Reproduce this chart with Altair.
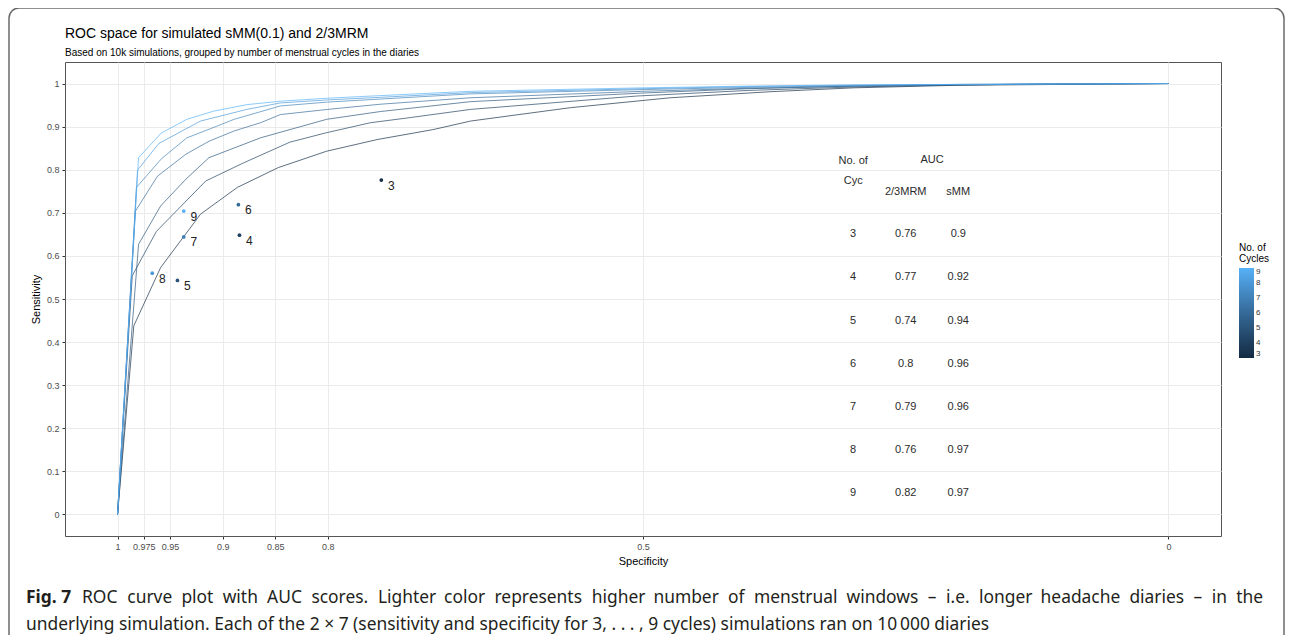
import altair as alt
import pandas as pd

# ---------------- data ----------------
cycles = [3, 4, 5, 6, 7, 8, 9]

spec_c3 = [1.0, 0.9845, 0.959, 0.921, 0.886, 0.847, 0.801, 0.753, 0.70, 0.664, 0.569, 0.474, 0.379, 0.30, 0.20, 0.10, 0.0]
sens_c3 = [0.0, 0.438, 0.573, 0.697, 0.759, 0.805, 0.843, 0.870, 0.893, 0.913, 0.944, 0.967, 0.981, 0.990, 0.996, 0.998, 1.0]

spec_c4 = [1.0, 0.986, 0.963, 0.916, 0.880, 0.836, 0.801, 0.7595, 0.7215, 0.664, 0.506, 0.40, 0.30, 0.20, 0.10, 0.0]
sens_c4 = [0.0, 0.554, 0.657, 0.774, 0.816, 0.864, 0.886, 0.909, 0.921, 0.940, 0.971, 0.984, 0.992, 0.997, 0.999, 1.0]

spec_c5 = [1.0, 0.980, 0.959, 0.935, 0.913, 0.864, 0.801, 0.75, 0.664, 0.50, 0.40, 0.30, 0.20, 0.10, 0.0]
sens_c5 = [0.0, 0.627, 0.716, 0.778, 0.828, 0.874, 0.917, 0.935, 0.958, 0.978, 0.988, 0.994, 0.997, 0.999, 1.0]

spec_c6 = [1.0, 0.983, 0.962, 0.935, 0.913, 0.889, 0.864, 0.845, 0.80, 0.75, 0.664, 0.50, 0.40, 0.30, 0.20, 0.10, 0.0]
sens_c6 = [0.0, 0.704, 0.785, 0.836, 0.866, 0.890, 0.909, 0.928, 0.940, 0.952, 0.967, 0.982, 0.989, 0.994, 0.997, 0.999, 1.0]

spec_c7 = [1.0, 0.982, 0.958, 0.934, 0.915, 0.889, 0.845, 0.80, 0.75, 0.664, 0.50, 0.40, 0.30, 0.20, 0.10, 0.0]
sens_c7 = [0.0, 0.759, 0.826, 0.874, 0.892, 0.917, 0.948, 0.957, 0.964, 0.976, 0.986, 0.991, 0.995, 0.998, 0.999, 1.0]

spec_c8 = [1.0, 0.981, 0.9607, 0.921, 0.877, 0.845, 0.80, 0.75, 0.664, 0.50, 0.40, 0.30, 0.20, 0.10, 0.0]
sens_c8 = [0.0, 0.799, 0.861, 0.913, 0.940, 0.955, 0.962, 0.968, 0.979, 0.988, 0.993, 0.996, 0.998, 0.999, 1.0]

spec_c9 = [1.0, 0.980, 0.9585, 0.934, 0.9085, 0.877, 0.845, 0.80, 0.75, 0.664, 0.50, 0.40, 0.30, 0.20, 0.10, 0.0]
sens_c9 = [0.0, 0.828, 0.885, 0.917, 0.936, 0.951, 0.959, 0.966, 0.972, 0.982, 0.990, 0.994, 0.997, 0.998, 0.999, 1.0]

point_cycles = [3, 4, 5, 6, 7, 8, 9]
point_spec = [0.749, 0.884, 0.943, 0.885, 0.937, 0.967, 0.937]
point_sens = [0.776, 0.648, 0.543, 0.719, 0.644, 0.560, 0.704]

table_cycles = ["3", "4", "5", "6", "7", "8", "9"]
auc_mrm = ["0.76", "0.77", "0.74", "0.8", "0.79", "0.76", "0.82"]
auc_smm = ["0.9", "0.92", "0.94", "0.96", "0.96", "0.97", "0.97"]

x_ticks = [1, 0.975, 0.95, 0.9, 0.85, 0.8, 0.5, 0]
y_ticks = [0, 0.1, 0.2, 0.3, 0.4, 0.5, 0.6, 0.7, 0.8, 0.9, 1]

title_text = "ROC space for simulated sMM(0.1) and 2/3MRM"
subtitle_text = "Based on 10k simulations, grouped by number of menstrual cycles in the diaries"
caption_bold = "Fig. 7"
caption_1 = ("ROC curve plot with AUC scores. Lighter color represents higher number of menstrual "
             "windows \u2013 i.e. longer headache diaries \u2013 in the")
caption_2 = ("underlying simulation. Each of the 2 \u00d7 7 (sensitivity and specificity for 3, . . . , 9 cycles) "
             "simulations ran on 10\u2009000 diaries")

# ---------------- tables ----------------
curves = {3: (spec_c3, sens_c3), 4: (spec_c4, sens_c4), 5: (spec_c5, sens_c5),
          6: (spec_c6, sens_c6), 7: (spec_c7, sens_c7), 8: (spec_c8, sens_c8),
          9: (spec_c9, sens_c9)}
rows = []
for c in cycles:
    sp, se = curves[c]
    for i, (a, b) in enumerate(zip(sp, se)):
        rows.append({"cyc": c, "idx": i, "spec": a, "sens": b})
df_lines = pd.DataFrame(rows)

df_points = pd.DataFrame({"cyc": point_cycles, "spec": point_spec, "sens": point_sens,
                          "lab": [str(c) for c in point_cycles]})

trows = []
for i, (c, m, s) in enumerate(zip(table_cycles, auc_mrm, auc_smm)):
    ypos = 0.65 - 0.1 * i
    trows.append({"spec": 0.30, "sens": ypos, "t": c})
    trows.append({"spec": 0.25, "sens": ypos, "t": m})
    trows.append({"spec": 0.20, "sens": ypos, "t": s})
trows += [
    {"spec": 0.30, "sens": 0.82, "t": "No. of"},
    {"spec": 0.30, "sens": 0.775, "t": "Cyc"},
    {"spec": 0.225, "sens": 0.822, "t": "AUC"},
    {"spec": 0.25, "sens": 0.748, "t": "2/3MRM"},
    {"spec": 0.20, "sens": 0.748, "t": "sMM"},
]
df_table = pd.DataFrame(trows)

# ---------------- encodings ----------------
FONT = "Liberation Sans"
xenc = alt.X("spec:Q",
             scale=alt.Scale(domain=[-0.05, 1.05], reverse=True, nice=False, zero=False),
             axis=alt.Axis(values=x_ticks, labelExpr="toString(datum.value)", title="Specificity"))
yenc = alt.Y("sens:Q",
             scale=alt.Scale(domain=[-0.05, 1.05], nice=False, zero=False),
             axis=alt.Axis(values=y_ticks, labelExpr="toString(datum.value)", title="Sensitivity"))
cscale = alt.Scale(type="linear", domain=[3, 9], range=["#132B43", "#56B1F7"])
cenc = alt.Color("cyc:Q", scale=cscale,
                 legend=alt.Legend(type="gradient", direction="vertical",
                                   title=["No. of", "Cycles"], orient="none",
                                   legendX=1174, legendY=181, tickCount=7,
                                   gradientLength=90, gradientThickness=15,
                                   titleFontSize=10, titleFontWeight="normal",
                                   titleFont=FONT, titleColor="black", titlePadding=4,
                                   titleLineHeight=11,
                                   labelFontSize=8, labelFont=FONT, labelColor="#333",
                                   gradientStrokeWidth=0))
cenc_nolegend = alt.Color("cyc:Q", scale=cscale, legend=None)

dummy = pd.DataFrame({"a": [0]})

frame = alt.Chart(dummy).mark_rect(fillOpacity=0, stroke="#6b6b6b", strokeWidth=1.5,
                                   cornerRadius=10).encode(
    x=alt.value(-56), x2=alt.value(1219), y=alt.value(-54), y2=alt.value(640))

lines = alt.Chart(df_lines).mark_line(strokeWidth=1, strokeOpacity=0.68).encode(
    x=xenc, y=yenc, color=cenc, detail="cyc:N", order=alt.Order("idx:Q"))

points = alt.Chart(df_points).mark_circle(size=14, opacity=1).encode(
    x=xenc, y=yenc, color=cenc_nolegend)

labels = alt.Chart(df_points).mark_text(font=FONT, fontSize=12, color="#222",
                                        dx=10, dy=5.5, baseline="middle").encode(
    x=xenc, y=yenc, text="lab:N")

table = alt.Chart(df_table).mark_text(font=FONT, fontSize=11, color="#2b2b2b",
                                      baseline="middle").encode(
    x=xenc, y=yenc, text="t:N")

title = alt.Chart(pd.DataFrame({"t": [title_text]})).mark_text(
    font=FONT, fontSize=14, color="black", align="left", baseline="alphabetic").encode(
    x=alt.value(0), y=alt.value(-24), text="t:N")
subtitle = alt.Chart(pd.DataFrame({"t": [subtitle_text]})).mark_text(
    font=FONT, fontSize=10, color="black", align="left", baseline="alphabetic").encode(
    x=alt.value(0), y=alt.value(-6.5), text="t:N")

# ---------------- caption (first line justified word by word) ----------------
CAPFONT = "Noto Sans"
CAPSIZE = 17.4
CAPCOLOR = "#231f20"
# approximate advance widths (em) of Noto Sans, used only to justify the caption line
adv = {"a": .556, "b": .613, "c": .476, "d": .613, "e": .561, "f": .336, "g": .546,
       "h": .614, "i": .258, "j": .258, "k": .530, "l": .258, "m": .931, "n": .614,
       "o": .601, "p": .613, "q": .613, "r": .408, "s": .479, "t": .352, "u": .614,
       "v": .501, "w": .778, "x": .524, "y": .501, "z": .463, "R": .646, "O": .779,
       "C": .632, "A": .633, "U": .733, "L": .519, ".": .266, "\u2013": .5}


def word_w(w):
    return sum(adv.get(ch, .56) for ch in w) * CAPSIZE


words = caption_1.split(" ")
left_px, right_px = 17, 1198          # relative to plot origin
widths = [word_w(w) for w in words]
gap = (right_px - left_px - sum(widths)) / (len(words) - 1)
cap_layers = []
xcur = left_px
for k, (w, ww) in enumerate(zip(words, widths)):
    if k == len(words) - 1:
        xv, al = right_px, "right"
    else:
        xv, al = xcur, "left"
    cap_layers.append(alt.Chart(pd.DataFrame({"t": [w]})).mark_text(
        font=CAPFONT, fontSize=CAPSIZE, color=CAPCOLOR, align=al,
        baseline="alphabetic").encode(x=alt.value(round(xv, 1)), y=alt.value(541), text="t:N"))
    xcur += ww + gap

cap_b = alt.Chart(pd.DataFrame({"t": [caption_bold]})).mark_text(
    font=CAPFONT, fontSize=CAPSIZE, fontWeight="bold", color=CAPCOLOR, align="left",
    baseline="alphabetic").encode(x=alt.value(-39), y=alt.value(541), text="t:N")
cap_2 = alt.Chart(pd.DataFrame({"t": [caption_2]})).mark_text(
    font=CAPFONT, fontSize=CAPSIZE, color=CAPCOLOR, align="left",
    baseline="alphabetic").encode(x=alt.value(-39), y=alt.value(568), text="t:N")

chart = alt.layer(frame, lines, points, labels, table, title, subtitle, cap_b, cap_2,
                  *cap_layers).resolve_scale(color="independent").properties(
    width=1156, height=474,
    padding={"left": 57, "top": 54, "right": 64, "bottom": 99},
    autosize=alt.AutoSizeParams(type="none"),
).configure_view(stroke="#555555", strokeWidth=1).configure_axis(
    grid=True, gridColor="#EBEBEB", gridWidth=1, domain=False,
    tickColor="#333333", tickSize=3, tickWidth=1,
    labelFont=FONT, labelFontSize=9, labelColor="#4D4D4D", labelPadding=3,
    titleFont=FONT, titleFontSize=11, titleFontWeight="normal", titleColor="black",
).configure_axisX(titlePadding=4).configure_axisY(titlePadding=5)

chart.save("out.html", embed_options={"renderer": "svg", "actions": False})
